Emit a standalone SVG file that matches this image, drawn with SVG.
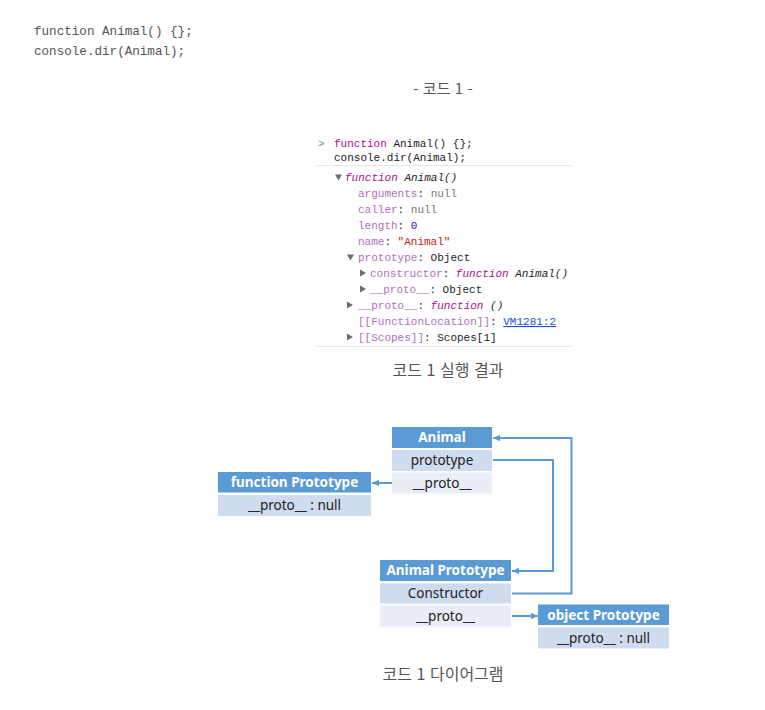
<svg xmlns="http://www.w3.org/2000/svg" width="765" height="710" viewBox="0 0 765 710">
<defs>
<marker id="ah" markerWidth="8" markerHeight="8" refX="7" refY="4" orient="auto" markerUnits="userSpaceOnUse">
<path d="M0,0.8 L7,4 L0,7.2 Z" fill="#5b9bd5"/>
</marker>
<style>
.code{font-family:"Liberation Mono","DejaVu Sans Mono",monospace;font-size:12.6px;fill:#555}
.con{font-family:"Liberation Mono","DejaVu Sans Mono",monospace;font-size:11px;fill:#222}
.kw{fill:#aa0d91}
.pn{fill:#b06fc0}
.nl{fill:#777}
.str{fill:#c41a16}
.num{fill:#1c00cf}
.lnk{fill:#1a4fd0;text-decoration:underline}
.it{font-style:italic}
.cap{font-family:"Noto Sans CJK KR","Noto Sans",sans-serif;font-size:16px;fill:#555;text-anchor:middle;word-spacing:1px}
.hd{fill:#5b9bd5}
.r1{fill:#cfdbee}
.r2{fill:#e8edf6}
.ht{font-family:"Noto Sans","Liberation Sans",sans-serif;font-size:13.5px;font-weight:bold;fill:#fff;text-anchor:middle}
.rt{font-family:"Noto Sans","Liberation Sans",sans-serif;font-size:13.5px;fill:#222;text-anchor:middle}
.tri{fill:#6e6e6e}
.sep{stroke:#e6e6e6;stroke-width:1}
.cn{fill:none;stroke:#5b9bd5;stroke-width:2;marker-end:url(#ah)}
</style>
</defs>
<rect width="765" height="710" fill="#fff"/>

<g id="code1">
<text class="code" x="34" y="35">function Animal() {};</text>
<text class="code" x="34" y="55">console.dir(Animal);</text>
</g>
<text class="cap" x="443" y="94" style="font-size:15px">- 코드 1 -</text>

<g id="console">
<line class="sep" x1="316" y1="165.5" x2="572" y2="165.5"/>
<line class="sep" x1="316" y1="346.5" x2="572" y2="346.5"/>
<text class="con" x="318" y="147" style="fill:#888">&gt;</text>
<text class="con" x="334" y="147"><tspan class="kw">function</tspan> Animal() {};</text>
<text class="con" x="334" y="161">console.dir(Animal);</text>
<polygon class="tri" points="335,174.5 342,174.5 338.5,180.5"/>
<text class="con it" x="345" y="181"><tspan class="kw">function</tspan> Animal()</text>
<text class="con" x="358" y="197"><tspan class="pn">arguments</tspan>: <tspan class="nl">null</tspan></text>
<text class="con" x="358" y="213"><tspan class="pn">caller</tspan>: <tspan class="nl">null</tspan></text>
<text class="con" x="358" y="229"><tspan class="pn">length</tspan>: <tspan class="num">0</tspan></text>
<text class="con" x="358" y="245"><tspan class="pn">name</tspan>: <tspan class="str">"Animal"</tspan></text>
<polygon class="tri" points="347,254.5 354,254.5 350.5,260.5"/>
<text class="con" x="358" y="261"><tspan class="pn">prototype</tspan>: Object</text>
<polygon class="tri" points="360,269.5 366,273 360,276.5"/>
<text class="con" x="370" y="277"><tspan class="pn">constructor</tspan>: <tspan class="kw it">function</tspan><tspan class="it"> Animal()</tspan></text>
<polygon class="tri" points="360,285.5 366,289 360,292.5"/>
<text class="con" x="370" y="293"><tspan class="pn">__proto__</tspan>: Object</text>
<polygon class="tri" points="347,301.5 353,305 347,308.5"/>
<text class="con" x="358" y="309"><tspan class="pn">__proto__</tspan>: <tspan class="kw it">function</tspan><tspan class="it"> ()</tspan></text>
<text class="con" x="358" y="325"><tspan class="pn">[[FunctionLocation]]</tspan>: <tspan class="lnk">VM1281:2</tspan></text>
<polygon class="tri" points="347,333.5 353,337 347,340.5"/>
<text class="con" x="358" y="341"><tspan class="pn">[[Scopes]]</tspan>: Scopes[1]</text>
</g>
<text class="cap" x="448" y="376">코드 1 실행 결과</text>

<g id="connectors">
<path class="cn" d="M392,483 L372,483"/>
<path class="cn" d="M493,460 L553,460 L553,571 L512,571"/>
<path class="cn" d="M512,593.5 L571.5,593.5 L571.5,438 L493,438"/>
<path class="cn" d="M512,616 L538,616"/>
</g>

<g id="animal">
<rect class="hd" x="392" y="427" width="100" height="21"/>
<text class="ht" x="442" y="442">Animal</text>
<rect class="r1" x="392" y="450" width="100" height="21"/>
<text class="rt" x="442" y="465">prototype</text>
<rect class="r2" x="392" y="472.5" width="100" height="21"/>
<text class="rt" x="442" y="487.5">__proto__</text>
</g>

<g id="function-prototype">
<rect class="hd" x="218" y="472" width="153" height="20.5"/>
<text class="ht" x="294.5" y="487">function Prototype</text>
<rect class="r1" x="218" y="495" width="153" height="21"/>
<text class="rt" x="294.5" y="510">__proto__ : null</text>
</g>

<g id="animal-prototype">
<rect class="hd" x="380" y="560" width="131" height="21"/>
<text class="ht" x="445.5" y="575">Animal Prototype</text>
<rect class="r1" x="380" y="583.5" width="131" height="20"/>
<text class="rt" x="445.5" y="598">Constructor</text>
<rect class="r2" x="380" y="605.5" width="131" height="21"/>
<text class="rt" x="445.5" y="620.5">__proto__</text>
</g>

<g id="object-prototype">
<rect class="hd" x="538" y="604.5" width="131" height="20.5"/>
<text class="ht" x="603.5" y="619.5">object Prototype</text>
<rect class="r1" x="538" y="627.5" width="131" height="21"/>
<text class="rt" x="603.5" y="642.5">__proto__ : null</text>
</g>

<text class="cap" x="443" y="680">코드 1 다이어그램</text>
</svg>
